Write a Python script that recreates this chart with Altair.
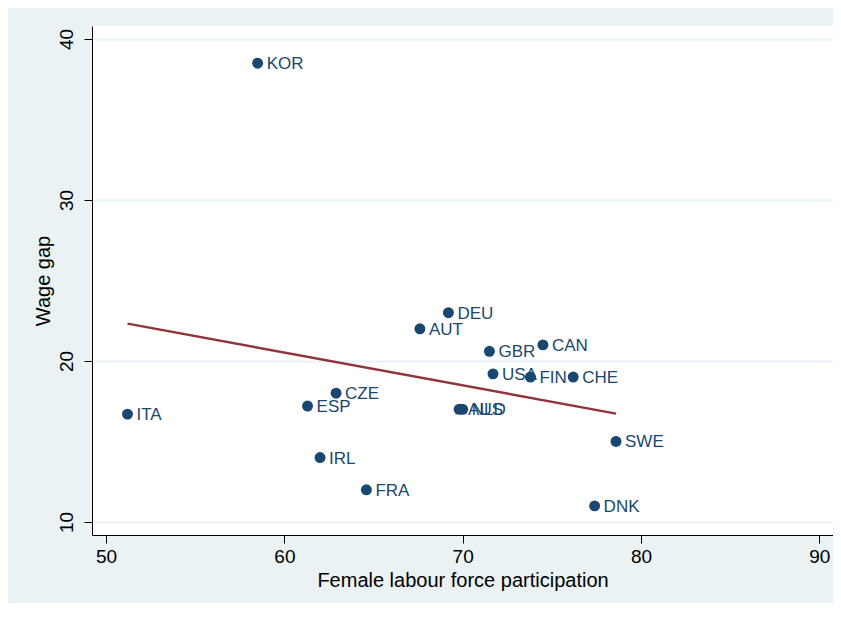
import altair as alt
import pandas as pd

countries = ["KOR", "DEU", "AUT", "GBR", "CAN", "USA", "FIN", "CHE", "CZE",
             "ESP", "ITA", "AUS", "NLD", "IRL", "FRA", "SWE", "DNK"]
participation = [58.5, 69.2, 67.6, 71.5, 74.5, 71.7, 73.8, 76.2, 62.9,
                 61.3, 51.2, 69.8, 70.0, 62.0, 64.6, 78.6, 77.4]
wage_gap = [38.5, 23.0, 22.0, 20.6, 21.0, 19.2, 19.0, 19.0, 18.0,
            17.2, 16.7, 17.0, 17.0, 14.0, 12.0, 15.0, 11.0]
x_ticks = [50, 60, 70, 80, 90]
y_ticks = [10, 20, 30, 40]

df = pd.DataFrame({"country": countries, "flfp": participation, "gap": wage_gap})

NAVY = "#1A476F"
MAROON = "#90353B"
BG = "#EAF2F3"
FONT = "Liberation Sans"

x_enc = alt.X("flfp:Q",
              scale=alt.Scale(domain=[49.21, 90.77], nice=False, zero=False),
              axis=alt.Axis(values=x_ticks, title="Female labour force participation",
                            grid=False, labelPadding=4, titlePadding=4))
y_enc = alt.Y("gap:Q",
              scale=alt.Scale(domain=[9.19, 40.81], nice=False, zero=False),
              axis=alt.Axis(values=y_ticks, title="Wage gap", grid=True,
                            labelAngle=270, labelAlign="center", labelBaseline="bottom",
                            labelPadding=8, titlePadding=4))

base = alt.Chart(df)

points = base.mark_circle(size=120, opacity=1, color=NAVY).encode(x=x_enc, y=y_enc)

labels = base.mark_text(align="left", baseline="middle", dx=9, dy=1,
                        fontSize=17, font=FONT, color=NAVY).encode(
    x="flfp:Q", y="gap:Q", text="country:N")

fit = base.transform_regression("flfp", "gap").mark_line(
    color=MAROON, strokeWidth=2.5).encode(x="flfp:Q", y="gap:Q")

chart = alt.layer(fit, points, labels).properties(
    width=741, height=509,
    background=BG,
    padding={"left": 84, "top": 18, "right": 0, "bottom": 68},
    autosize=alt.AutoSizeParams(type="none"),
).configure_view(
    stroke=None, fill="white"
).configure_axis(
    domainColor="black", domainWidth=1,
    tickColor="black", tickSize=8, tickWidth=1,
    gridColor=BG, gridWidth=2,
    labelFont=FONT, labelFontSize=19, labelColor="black",
    titleFont=FONT, titleFontSize=20, titleFontWeight="normal", titleColor="black",
)

chart.save("out.html", embed_options={"renderer": "svg", "actions": False})
